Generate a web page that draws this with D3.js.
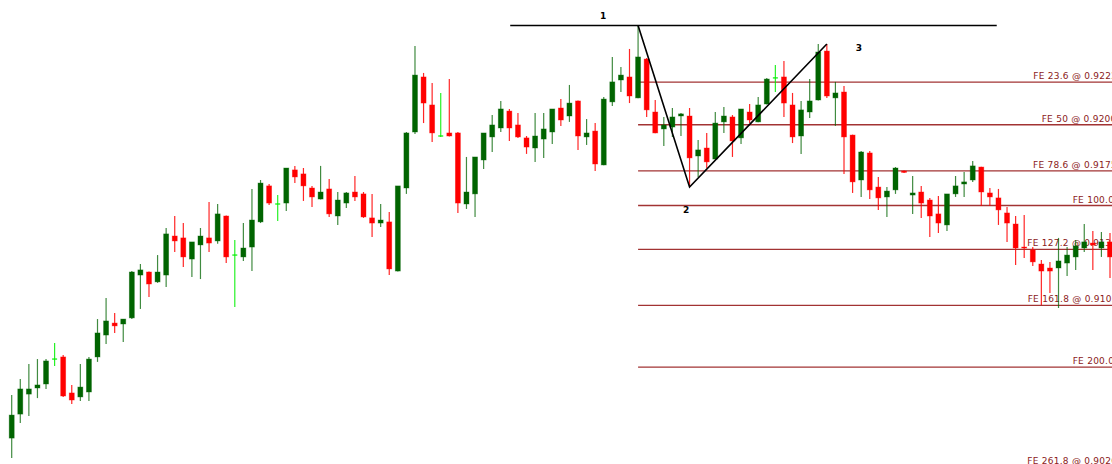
<!DOCTYPE html>
<html>
<head>
<meta charset="utf-8">
<script src="https://cdn.jsdelivr.net/npm/d3@7"></script>
<style>
  body { margin: 0; background: #fff; }
  svg { display: block; }
</style>
</head>
<body>
<div id="chart-area"></div>
<script>
const width = 1112, height = 464;

// candle prices, one entry per bar, oldest first
const opens = [
  0.90350, 0.90476, 0.90581, 0.90613, 0.90634, 0.90765, 0.90776, 0.90587, 0.90566, 0.90592,
  0.90776, 0.90891, 0.90954, 0.90949, 0.90981, 0.91206, 0.91222, 0.91170, 0.91206, 0.91411,
  0.91401, 0.91290, 0.91364, 0.91401, 0.91385, 0.91516, 0.91311, 0.91301, 0.91353, 0.91485,
  0.91674, 0.91579, 0.91584, 0.91758, 0.91737, 0.91663, 0.91605, 0.91658, 0.91516, 0.91584,
  0.91642, 0.91632, 0.91506, 0.91479, 0.91485, 0.91227, 0.91663, 0.91957, 0.92246, 0.92099,
  0.91936, 0.91952, 0.91952, 0.91579, 0.91632, 0.91810, 0.91931, 0.91978, 0.92067, 0.91994,
  0.91926, 0.91873, 0.91920, 0.91957, 0.92083, 0.92041, 0.92120, 0.91931, 0.91962, 0.91784,
  0.92115, 0.92230, 0.92246, 0.92136, 0.92340, 0.92062, 0.91973, 0.91983, 0.92041, 0.92041,
  0.91831, 0.91873, 0.91815, 0.92010, 0.92036, 0.91926, 0.92062, 0.92010, 0.92104, 0.92241,
  0.92246, 0.92099, 0.91936, 0.92062, 0.92125, 0.92382, 0.92136, 0.92167, 0.91941, 0.91705,
  0.91847, 0.91668, 0.91616, 0.91653, 0.91752, 0.91626, 0.91642, 0.91600, 0.91527, 0.91469,
  0.91632, 0.91684, 0.91705, 0.91773, 0.91637, 0.91611, 0.91532, 0.91474, 0.91353, 0.91338,
  0.91264, 0.91243, 0.91243, 0.91269, 0.91301, 0.91348, 0.91374, 0.91348, 0.91380
];
const highs = [
  0.90576, 0.90660, 0.90739, 0.90765, 0.90765, 0.90849, 0.90786, 0.90629, 0.90739, 0.90776,
  0.90975, 0.91086, 0.91007, 0.90975, 0.91227, 0.91264, 0.91225, 0.91311, 0.91453, 0.91516,
  0.91479, 0.91380, 0.91453, 0.91590, 0.91579, 0.91518, 0.91390, 0.91479, 0.91658, 0.91705,
  0.91684, 0.91626, 0.91768, 0.91779, 0.91768, 0.91674, 0.91779, 0.91710, 0.91642, 0.91642,
  0.91726, 0.91642, 0.91632, 0.91579, 0.91537, 0.91674, 0.91957, 0.92409, 0.92267, 0.92214,
  0.92162, 0.92235, 0.91957, 0.91826, 0.91826, 0.91952, 0.92046, 0.92120, 0.92078, 0.92057,
  0.91936, 0.92057, 0.92057, 0.92078, 0.92130, 0.92204, 0.92122, 0.92025, 0.92004, 0.92141,
  0.92351, 0.92298, 0.92393, 0.92516, 0.92346, 0.92125, 0.92036, 0.92083, 0.92057, 0.92083,
  0.91915, 0.91952, 0.92062, 0.92088, 0.92046, 0.92078, 0.92104, 0.92141, 0.92241, 0.92309,
  0.92330, 0.92162, 0.92120, 0.92235, 0.92419, 0.92419, 0.92220, 0.92199, 0.91943, 0.91857,
  0.91857, 0.91721, 0.91668, 0.91773, 0.91755, 0.91726, 0.91674, 0.91611, 0.91621, 0.91632,
  0.91726, 0.91747, 0.91805, 0.91775, 0.91663, 0.91658, 0.91563, 0.91516, 0.91521, 0.91353,
  0.91285, 0.91275, 0.91401, 0.91353, 0.91390, 0.91474, 0.91437, 0.91432, 0.91427
];
const lows = [
  0.90245, 0.90429, 0.90466, 0.90560, 0.90608, 0.90728, 0.90566, 0.90529, 0.90545, 0.90545,
  0.90750, 0.90844, 0.90902, 0.90855, 0.90975, 0.91028, 0.91091, 0.91165, 0.91143, 0.91327,
  0.91248, 0.91196, 0.91185, 0.91327, 0.91370, 0.91269, 0.91038, 0.91280, 0.91227, 0.91479,
  0.91574, 0.91490, 0.91542, 0.91689, 0.91595, 0.91563, 0.91603, 0.91511, 0.91469, 0.91558,
  0.91595, 0.91506, 0.91406, 0.91458, 0.91206, 0.91225, 0.91632, 0.91947, 0.92004, 0.91905,
  0.91931, 0.91934, 0.91532, 0.91553, 0.91511, 0.91763, 0.91852, 0.91957, 0.91910, 0.91926,
  0.91842, 0.91800, 0.91821, 0.91894, 0.91989, 0.92010, 0.91863, 0.91889, 0.91752, 0.91782,
  0.92094, 0.92167, 0.92109, 0.92134, 0.92036, 0.91950, 0.91884, 0.91931, 0.91936, 0.91668,
  0.91721, 0.91768, 0.91813, 0.91952, 0.91826, 0.91894, 0.92004, 0.92008, 0.92102, 0.92167,
  0.92036, 0.91899, 0.91842, 0.92031, 0.92123, 0.92136, 0.91989, 0.91737, 0.91637, 0.91616,
  0.91605, 0.91548, 0.91511, 0.91632, 0.91742, 0.91527, 0.91506, 0.91406, 0.91427, 0.91437,
  0.91616, 0.91616, 0.91695, 0.91569, 0.91569, 0.91469, 0.91380, 0.91259, 0.91296, 0.91254,
  0.91049, 0.91112, 0.91033, 0.91201, 0.91233, 0.91327, 0.91233, 0.91301, 0.91191
];
const closes = [
  0.90471, 0.90608, 0.90608, 0.90629, 0.90755, 0.90765, 0.90571, 0.90550, 0.90618, 0.90765,
  0.90902, 0.90965, 0.90939, 0.90975, 0.91222, 0.91233, 0.91159, 0.91222, 0.91422, 0.91385,
  0.91301, 0.91380, 0.91411, 0.91374, 0.91527, 0.91301, 0.91311, 0.91348, 0.91495, 0.91689,
  0.91584, 0.91579, 0.91768, 0.91721, 0.91674, 0.91616, 0.91642, 0.91527, 0.91600, 0.91637,
  0.91616, 0.91511, 0.91479, 0.91495, 0.91238, 0.91674, 0.91952, 0.92256, 0.92109, 0.91952,
  0.91936, 0.91936, 0.91584, 0.91642, 0.91826, 0.91952, 0.91994, 0.92078, 0.91978, 0.91931,
  0.91878, 0.91936, 0.91973, 0.92078, 0.92020, 0.92109, 0.91936, 0.91952, 0.91789, 0.92130,
  0.92220, 0.92256, 0.92146, 0.92351, 0.92073, 0.91952, 0.91994, 0.92036, 0.92052, 0.91821,
  0.91863, 0.91800, 0.92004, 0.92041, 0.91910, 0.92078, 0.92020, 0.92099, 0.92235, 0.92241,
  0.92109, 0.91931, 0.92073, 0.92120, 0.92377, 0.92146, 0.92162, 0.91931, 0.91695, 0.91852,
  0.91653, 0.91611, 0.91647, 0.91768, 0.91745, 0.91637, 0.91584, 0.91516, 0.91479, 0.91632,
  0.91674, 0.91695, 0.91779, 0.91642, 0.91616, 0.91548, 0.91479, 0.91348, 0.91348, 0.91275,
  0.91227, 0.91227, 0.91280, 0.91311, 0.91359, 0.91380, 0.91364, 0.91380, 0.91301
];

// fibo expansion: swing bars (1 = high, 2 = low, 3 = high)
const swingBars = [73, 79, 95];
const swingNames = ['1', '2', '3'];
const feRatios = [0.236, 0.5, 0.786, 1.0, 1.272, 1.618, 2.0, 2.618];
const feLabels = [
  'FE 23.6 @ 0.9222', 'FE 50 @ 0.9200', 'FE 78.6 @ 0.9175', 'FE 100.0 @ 0.9157',
  'FE 127.2 @ 0.9134', 'FE 161.8 @ 0.9105', 'FE 200.0 @ 0.9072', 'FE 261.8 @ 0.9020'
];
// horizontal line drawn at the swing 1 high, from bar to bar
const levelLine = [58.1, 114.8];

// layout only
const feLabelX = [1033.3, 1041.7, 1033, 1072.7, 1027.3, 1027.7, 1072.7, 1027.3];
const swingLabelOffset = [[-35, -7], [-3.5, 25.5], [32, 7]];

const candles = opens.map((o, i) => ({ i, o, h: highs[i], l: lows[i], c: closes[i] }));

const svg = d3.select('#chart-area')
  .append('svg')
  .attr('width', width)
  .attr('height', height);

svg.append('rect').attr('width', width).attr('height', height).attr('fill', '#fff');

const x = d3.scaleLinear().domain([0, opens.length - 1]).range([11.7, 1110]);
const y = d3.scaleLinear().domain([0.90214, 0.9265]).range([height, 0]);

const p1 = highs[swingBars[0]], p2 = lows[swingBars[1]], p3 = highs[swingBars[2]];
const swingPrices = [p1, p2, p3];

// fibo levels (behind the bars)
const fe = svg.append('g');
feRatios.forEach((r, k) => {
  const yy = y(p3 - r * (p1 - p2));
  fe.append('line')
    .attr('x1', x(swingBars[0])).attr('x2', width)
    .attr('y1', yy).attr('y2', yy)
    .attr('stroke', '#8b0000')
    .attr('stroke-opacity', 0.8)
    .attr('stroke-width', 1.3);
  fe.append('text')
    .attr('x', feLabelX[k])
    .attr('y', yy - 3)
    .attr('fill', '#8b1a1a')
    .style('font', '9px "DejaVu Sans", sans-serif')
    .style('letter-spacing', '0.25px')
    .text(feLabels[k]);
});

const colorOf = d => d.c > d.o ? '#006400' : d.c < d.o ? '#ff0000' : '#00ee00';
const bw = 5;

const bars = svg.append('g')
  .selectAll('g')
  .data(candles)
  .join('g');

bars.append('line')
  .attr('x1', d => x(d.i)).attr('x2', d => x(d.i))
  .attr('y1', d => y(d.h)).attr('y2', d => y(d.l))
  .attr('stroke', colorOf)
  .attr('stroke-opacity', d => d.c > d.o ? 0.75 : 0.85)
  .attr('stroke-width', 1.2);

bars.filter(d => d.c !== d.o).append('rect')
  .attr('x', d => x(d.i) - bw / 2)
  .attr('width', bw)
  .attr('y', d => y(Math.max(d.o, d.c)))
  .attr('height', d => Math.max(1, Math.abs(y(d.o) - y(d.c))))
  .attr('fill', colorOf)
  .attr('stroke', colorOf)
  .attr('stroke-opacity', 0.45)
  .attr('stroke-width', 0.8);

bars.filter(d => d.c === d.o).append('line')
  .attr('x1', d => x(d.i) - bw / 2).attr('x2', d => x(d.i) + bw / 2)
  .attr('y1', d => y(d.o)).attr('y2', d => y(d.o))
  .attr('stroke', colorOf)
  .attr('stroke-width', 1.2);

// level line at swing 1 and the 1-2-3 legs
svg.append('line')
  .attr('x1', x(levelLine[0])).attr('x2', x(levelLine[1]))
  .attr('y1', y(p1)).attr('y2', y(p1))
  .attr('stroke', '#000')
  .attr('stroke-width', 1.6);

svg.append('path')
  .datum(swingBars.map((b, k) => [x(b), y(swingPrices[k])]))
  .attr('d', d3.line())
  .attr('fill', 'none')
  .attr('stroke', '#000')
  .attr('stroke-width', 1.6);

svg.append('g')
  .selectAll('text')
  .data(swingNames)
  .join('text')
  .attr('x', (d, k) => x(swingBars[k]) + swingLabelOffset[k][0])
  .attr('y', (d, k) => y(swingPrices[k]) + swingLabelOffset[k][1])
  .attr('text-anchor', 'middle')
  .attr('fill', '#000')
  .style('font', 'bold 9px "DejaVu Sans", sans-serif')
  .text(d => d);
</script>
</body>
</html>
